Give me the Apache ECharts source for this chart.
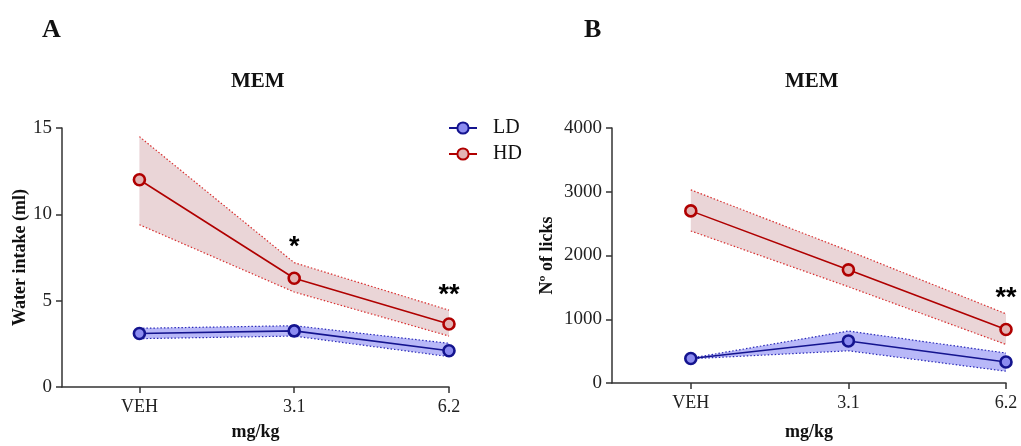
<!DOCTYPE html>
<html><head><meta charset="utf-8">
<script src="https://cdn.jsdelivr.net/npm/echarts@6/dist/echarts.min.js"></script>
<style>html,body{margin:0;padding:0;background:#fff}#c{width:1021px;height:446px}</style>
</head><body><div id="c"></div>
<script>
const categories = ['VEH', '3.1', '6.2'];
// Panel A: water intake (ml)
const waterLD   = [3.1, 3.25, 2.1];
const waterLDLo = [2.8, 2.95, 1.76];
const waterLDHi = [3.4, 3.55, 2.53];
const waterHD   = [12.0, 6.3, 3.65];
const waterHDLo = [9.4, 5.5, 2.95];
const waterHDHi = [14.5, 7.2, 4.45];
const sigA = ['', '*', '**'];
// Panel B: number of licks
const licksLD   = [385, 660, 330];
const licksLDLo = [380, 505, 185];
const licksLDHi = [390, 815, 470];
const licksHD   = [2700, 1775, 840];
const licksHDLo = [2385, 1510, 605];
const licksHDHi = [3030, 2075, 1085];
const sigB = ['', '', '**'];
const yTicksA = [0, 5, 10, 15];
const yTicksB = [0, 1000, 2000, 3000, 4000];

const SERIF = 'Liberation Serif';
const C = {
  ldLine: '#14148f', ldFill: '#8c8cf0', ldBand: '#b8b8f8', ldDot: '#2a2ab8',
  hdLine: '#b00000', hdFill: '#e2b4b4', hdBand: '#ead5d7', hdDot: '#d83030'
};

function pts(arr) { return arr.map((v, i) => [i, v]); }

function band(idx, lo, hi, dot, fill, sig) {
  const edge = (arr) => ({ type: 'line', xAxisIndex: idx, yAxisIndex: idx, data: pts(arr),
    symbol: 'none', silent: true, z: 2,
    lineStyle: { type: [1.5, 2], color: dot, width: 1.2 } });
  const out = [
    { type: 'custom', xAxisIndex: idx, yAxisIndex: idx, silent: true, z: 1,
      data: [[0, lo[0]]], encode: { x: 0, y: 1 },
      renderItem: (params, api) => {
        const up = hi.map((v, i) => api.coord([i, v]));
        const dn = lo.map((v, i) => api.coord([i, v])).reverse();
        return { type: 'polygon', shape: { points: up.concat(dn) }, style: { fill: fill } };
      } },
    edge(lo), edge(hi)
  ];
  if (sig) {
    out.push({ type: 'scatter', xAxisIndex: idx, yAxisIndex: idx, silent: true, z: 6,
      data: hi.map((v, i) => ({ value: [i, v], sig: sig[i] })).filter(d => d.sig),
      symbolSize: 1, itemStyle: { color: 'rgba(0,0,0,0)' },
      labelLayout: { hideOverlap: false },
      label: { show: true, position: 'top', distance: 1, opacity: 1,
        formatter: p => p.data.sig, fontFamily: 'Liberation Sans',
        fontWeight: 'bold', fontSize: 27, color: '#000', textBorderWidth: 0 } });
  }
  return out;
}
function main(idx, name, vals, line, fillc) {
  return { type: 'line', name: name, xAxisIndex: idx, yAxisIndex: idx, data: pts(vals),
    symbol: 'circle', symbolSize: 11, z: 5,
    lineStyle: { color: line, width: 1.6 },
    itemStyle: { color: fillc, borderColor: line, borderWidth: 2.6 } };
}
function xAx(idx, gap) {
  return { type: 'value', gridIndex: idx, min: -0.5, max: 2,
    name: 'mg/kg', nameLocation: 'middle', nameGap: gap,
    nameTextStyle: { fontFamily: SERIF, fontWeight: 'bold', fontSize: 18, color: '#111' },
    axisLine: { show: true, onZero: false, lineStyle: { color: '#333', width: 1.5 } },
    axisTick: { show: true, customValues: [0, 1, 2], length: 6, lineStyle: { color: '#333', width: 1.5 } },
    axisLabel: { customValues: [0, 1, 2], formatter: v => categories[Math.round(v)] || '',
      fontFamily: SERIF, fontSize: 18, color: '#222', margin: 11 },
    splitLine: { show: false } };
}
function yAx(idx, name, ticks, gap) {
  return { type: 'value', gridIndex: idx, min: ticks[0], max: ticks[ticks.length - 1],
    interval: ticks[1] - ticks[0],
    name: name, nameLocation: 'middle', nameGap: gap,
    nameTextStyle: { fontFamily: SERIF, fontWeight: 'bold', fontSize: 18, color: '#111' },
    axisLine: { show: true, onZero: false, lineStyle: { color: '#333', width: 1.5 } },
    axisTick: { show: true, length: 6, lineStyle: { color: '#333', width: 1.5 } },
    axisLabel: { fontFamily: SERIF, fontSize: 19, color: '#222', margin: 10, formatter: v => String(v) },
    splitLine: { show: false } };
}

const chart = echarts.init(document.getElementById('c'));
chart.setOption({
  animation: false,
  backgroundColor: '#fff',
  grid: [
    { left: 62, top: 128, width: 387, height: 259 },
    { left: 612, top: 128, width: 394, height: 259 }
  ],
  xAxis: [xAx(0, 36), xAx(1, 40)],
  yAxis: [yAx(0, 'Water intake (ml)', yTicksA, 33), yAx(1, 'Nº of licks', yTicksB, 56)],
  legend: {
    data: ['LD', 'HD'], orient: 'vertical', left: 443, top: 113, itemGap: 6,
    itemWidth: 28, itemHeight: 14,
    textStyle: { fontFamily: SERIF, fontSize: 20, color: '#111', padding: [0, 0, 0, 11] }
  },
  graphic: [
    { type: 'text', left: 42, top: 17, style: { text: 'A', font: 'bold 26px "Liberation Serif"', fill: '#111' } },
    { type: 'text', left: 584, top: 17, style: { text: 'B', font: 'bold 26px "Liberation Serif"', fill: '#111' } },
    { type: 'text', left: 231, top: 71, style: { text: 'MEM', font: 'bold 21px "Liberation Serif"', fill: '#111' } },
    { type: 'text', left: 785, top: 71, style: { text: 'MEM', font: 'bold 21px "Liberation Serif"', fill: '#111' } }
  ],
  series: [
    ...band(0, waterHDLo, waterHDHi, C.hdDot, C.hdBand, sigA),
    ...band(0, waterLDLo, waterLDHi, C.ldDot, C.ldBand, null),
    ...band(1, licksHDLo, licksHDHi, C.hdDot, C.hdBand, sigB),
    ...band(1, licksLDLo, licksLDHi, C.ldDot, C.ldBand, null),
    main(0, 'LD', waterLD, C.ldLine, C.ldFill),
    main(0, 'HD', waterHD, C.hdLine, C.hdFill),
    main(1, 'LD', licksLD, C.ldLine, C.ldFill),
    main(1, 'HD', licksHD, C.hdLine, C.hdFill)
  ]
});
</script></body></html>
